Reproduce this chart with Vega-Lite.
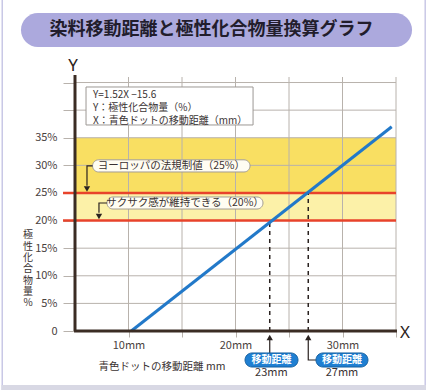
{
  "$schema": "https://vega.github.io/schema/vega-lite/v6.json",
  "width": 321,
  "height": 254,
  "autosize": {"type": "none"},
  "padding": {"left": 75, "top": 77, "right": 32, "bottom": 59},
  "background": "white",
  "config": {"font": "Noto Sans CJK JP", "view": {"stroke": null}},
  "resolve": {"scale": {"color": "independent"}},
  "datasets": {
    "frame": [
      {"part": "side", "x": -1.87, "x2": -1.73, "y": -10.7, "y2": 60},
      {"part": "side", "x": 37.66, "x2": 37.8, "y": -10.7, "y2": 60},
      {"part": "bottom", "x": -1.87, "x2": 37.8, "y": -9.78, "y2": -10.7}
    ],
    "titlePill": [{"x": -0.05, "x2": 36.5, "y": 51.43, "y2": 57.59}],
    "titleText": [{"x": 17.75, "y": 54.5, "label": "染料移動距離と極性化合物量換算グラフ"}],
    "yTitle": [
      {"x": 0.61, "y": 17.39, "label": "極"},
      {"x": 0.61, "y": 15.3, "label": "性"},
      {"x": 0.61, "y": 13.22, "label": "化"},
      {"x": 0.61, "y": 11.17, "label": "合"},
      {"x": 0.61, "y": 9.13, "label": "物"},
      {"x": 0.61, "y": 7.06, "label": "量"},
      {"x": 0.61, "y": 5.01, "label": "%"}
    ],
    "bands": [
      {"zone": "eu", "x": 5, "x2": 35, "y": 25, "y2": 35},
      {"zone": "crisp", "x": 5, "x2": 35, "y": 20, "y2": 25}
    ],
    "grid": [
      {"x": 10, "x2": 10, "y": 0, "y2": 46},
      {"x": 15, "x2": 15, "y": 0, "y2": 46},
      {"x": 20, "x2": 20, "y": 0, "y2": 46},
      {"x": 25, "x2": 25, "y": 0, "y2": 46},
      {"x": 30, "x2": 30, "y": 0, "y2": 46},
      {"x": 35, "x2": 35, "y": 0, "y2": 46},
      {"x": 5, "x2": 35, "y": 5, "y2": 5},
      {"x": 5, "x2": 35, "y": 10, "y2": 10},
      {"x": 5, "x2": 35, "y": 15, "y2": 15},
      {"x": 5, "x2": 35, "y": 20, "y2": 20},
      {"x": 5, "x2": 35, "y": 25, "y2": 25},
      {"x": 5, "x2": 35, "y": 30, "y2": 30},
      {"x": 5, "x2": 35, "y": 35, "y2": 35},
      {"x": 5, "x2": 35, "y": 40, "y2": 40},
      {"x": 5, "x2": 35, "y": 45, "y2": 45}
    ],
    "limits": [
      {"x": 3.88, "x2": 35, "y": 25},
      {"x": 3.88, "x2": 35, "y": 20}
    ],
    "eqBox": [{"x": 6.03, "x2": 21.64, "y": 37.31, "y2": 44.19}],
    "eqText": [
      {"x": 6.68, "y": 42.74, "label": "Y=1.52X −15.6"},
      {"x": 6.68, "y": 40.39, "label": "Y：極性化合物量（%）"},
      {"x": 6.68, "y": 38.03, "label": "X：青色ドットの移動距離（mm）"}
    ],
    "callPills": [
      {"x": 6.64, "x2": 21.36, "y": 28.8, "y2": 31.0},
      {"x": 7.99, "x2": 22.57, "y": 22.09, "y2": 24.27}
    ],
    "callText": [
      {"x": 14.0, "y": 29.9, "label": "ヨーロッパの法規制値（25%）"},
      {"x": 15.28, "y": 23.18, "label": "サクサク感が維持できる（20%）"}
    ],
    "arrows": [
      {"id": "a1", "o": 1, "x": 6.64, "y": 29.9},
      {"id": "a1", "o": 2, "x": 6.12, "y": 29.9},
      {"id": "a1", "o": 3, "x": 6.12, "y": 26.3},
      {"id": "a2", "o": 1, "x": 7.99, "y": 23.18},
      {"id": "a2", "o": 2, "x": 7.24, "y": 23.18},
      {"id": "a2", "o": 3, "x": 7.24, "y": 21.4},
      {"id": "b1", "o": 1, "x": 23.2, "y": -1.63},
      {"id": "b1", "o": 2, "x": 23.2, "y": -3.98},
      {"id": "b2", "o": 1, "x": 26.8, "y": -1.63},
      {"id": "b2", "o": 2, "x": 26.8, "y": -5.25},
      {"id": "b2", "o": 3, "x": 27.52, "y": -5.25}
    ],
    "headsDown": [
      {"x": 6.12, "y": 25.72},
      {"x": 7.24, "y": 20.74}
    ],
    "headsUp": [
      {"x": 23.2, "y": -1.18},
      {"x": 26.8, "y": -1.18}
    ],
    "dashes": [
      {"x": 23.2, "y": 0, "y2": 20},
      {"x": 26.8, "y": 0, "y2": 25}
    ],
    "fit": [
      {"x": 10.26, "y": 0},
      {"x": 34.6, "y": 37.0}
    ],
    "axisLines": [
      {"x": 5, "x2": 5, "y": 0, "y2": 46.36},
      {"x": 4.91, "x2": 35.09, "y": 0, "y2": 0}
    ],
    "letters": [
      {"x": 4.81, "y": 47.99, "label": "Y"},
      {"x": 35.84, "y": -0.36, "label": "X"}
    ],
    "badges": [
      {"x": 20.89, "x2": 25.84, "y": -6.52, "y2": -3.98},
      {"x": 27.52, "x2": 32.38, "y": -6.52, "y2": -3.98}
    ],
    "badgeText": [
      {"x": 23.36, "y": -5.25, "label": "移動距離"},
      {"x": 29.95, "y": -5.25, "label": "移動距離"}
    ],
    "distText": [
      {"x": 23.35, "y": -7.66, "label": "23mm"},
      {"x": 29.95, "y": -7.66, "label": "27mm"}
    ]
  },
  "encoding": {
    "x": {
      "field": "x",
      "type": "quantitative",
      "scale": {"domain": [5, 35], "nice": false, "zero": false},
      "axis": {
        "values": [10, 15, 20, 25, 30, 35],
        "labelExpr": "datum.value % 10 == 0 ? datum.value + 'mm' : ''",
        "domain": false,
        "grid": false,
        "ticks": true,
        "tickSize": 6,
        "tickColor": "#b8b2ac",
        "labelPadding": 2,
        "labelFontSize": 11,
        "labelColor": "#4a4240",
        "title": "青色ドットの移動距離 mm",
        "titleX": 86.5,
        "titleY": 35,
        "titleAlign": "center",
        "titleBaseline": "middle",
        "titleFontSize": 10.5,
        "titleFontWeight": "normal",
        "titleColor": "#3a3232"
      }
    },
    "y": {
      "field": "y",
      "type": "quantitative",
      "scale": {"domain": [0, 46], "nice": false, "zero": false},
      "axis": {
        "values": [0, 5, 10, 15, 20, 25, 30, 35, 40, 45],
        "labelExpr": "datum.value == 0 ? '0' : (datum.value <= 35 ? datum.value + '%' : '')",
        "domain": false,
        "grid": false,
        "ticks": true,
        "tickSize": 12,
        "tickColor": "#b8b2ac",
        "labelPadding": 6,
        "labelFontSize": 11,
        "labelColor": "#4a4240",
        "title": null
      }
    }
  },
  "layer": [
    {
      "data": {"name": "frame"},
      "mark": {"type": "rect"},
      "encoding": {
        "x2": {"field": "x2"},
        "y2": {"field": "y2"},
        "color": {"field": "part", "type": "nominal", "scale": {"domain": ["side", "bottom"], "range": ["#c9c8e6", "#d8d8e4"]}, "legend": null}
      }
    },
    {
      "data": {"name": "titlePill"},
      "mark": {"type": "rect", "fill": "#aca9dd", "cornerRadius": 17},
      "encoding": {"x2": {"field": "x2"}, "y2": {"field": "y2"}}
    },
    {
      "data": {"name": "titleText"},
      "mark": {"type": "text", "fontSize": 18, "fontWeight": "bold", "color": "#221d2c", "align": "center", "baseline": "middle"},
      "encoding": {"text": {"field": "label"}}
    },
    {
      "data": {"name": "yTitle"},
      "mark": {"type": "text", "fontSize": 10, "color": "#3a3232", "align": "center", "baseline": "middle"},
      "encoding": {"text": {"field": "label"}}
    },
    {
      "data": {"name": "bands"},
      "mark": {"type": "rect"},
      "encoding": {
        "x2": {"field": "x2"},
        "y2": {"field": "y2"},
        "color": {"field": "zone", "type": "nominal", "scale": {"domain": ["eu", "crisp"], "range": ["#f9df62", "#fcf1a8"]}, "legend": null}
      }
    },
    {
      "data": {"name": "grid"},
      "mark": {"type": "rule", "color": "#b8b2ac", "strokeWidth": 1},
      "encoding": {"x2": {"field": "x2"}, "y2": {"field": "y2"}}
    },
    {
      "data": {"name": "limits"},
      "mark": {"type": "rule", "color": "#e8432b", "strokeWidth": 2.5},
      "encoding": {"x2": {"field": "x2"}}
    },
    {
      "data": {"name": "eqBox"},
      "mark": {"type": "rect", "fill": "white", "stroke": "#9c9894", "strokeWidth": 1},
      "encoding": {"x2": {"field": "x2"}, "y2": {"field": "y2"}}
    },
    {
      "data": {"name": "eqText"},
      "mark": {"type": "text", "fontSize": 10, "color": "#3a3434", "align": "left", "baseline": "middle"},
      "encoding": {"text": {"field": "label"}}
    },
    {
      "data": {"name": "callPills"},
      "mark": {"type": "rect", "fill": "#fffdf2", "stroke": "#a29c94", "strokeWidth": 1, "cornerRadius": 7},
      "encoding": {"x2": {"field": "x2"}, "y2": {"field": "y2"}}
    },
    {
      "data": {"name": "callText"},
      "mark": {"type": "text", "fontSize": 10.5, "color": "#3a3232", "align": "center", "baseline": "middle"},
      "encoding": {"text": {"field": "label"}}
    },
    {
      "data": {"name": "dashes"},
      "mark": {"type": "rule", "color": "#2a2220", "strokeWidth": 1.5, "strokeDash": [4, 4]},
      "encoding": {"y2": {"field": "y2"}}
    },
    {
      "data": {"name": "fit"},
      "mark": {"type": "line", "color": "#2279c9", "strokeWidth": 3},
      "encoding": {}
    },
    {
      "data": {"name": "arrows"},
      "mark": {"type": "line", "color": "#2a2220", "strokeWidth": 1.2},
      "encoding": {"detail": {"field": "id"}, "order": {"field": "o"}}
    },
    {
      "data": {"name": "headsDown"},
      "mark": {"type": "point", "shape": "triangle-down", "filled": true, "size": 40, "color": "#2a2220", "opacity": 1},
      "encoding": {}
    },
    {
      "data": {"name": "headsUp"},
      "mark": {"type": "point", "shape": "triangle-up", "filled": true, "size": 40, "color": "#2a2220", "opacity": 1},
      "encoding": {}
    },
    {
      "data": {"name": "axisLines"},
      "mark": {"type": "rule", "color": "#3b2c24", "strokeWidth": 3},
      "encoding": {"x2": {"field": "x2"}, "y2": {"field": "y2"}}
    },
    {
      "data": {"name": "letters"},
      "mark": {"type": "text", "font": "Noto Sans", "fontSize": 17, "color": "#2a2220", "align": "center", "baseline": "middle"},
      "encoding": {"text": {"field": "label"}}
    },
    {
      "data": {"name": "badges"},
      "mark": {"type": "rect", "fill": "#1f7fd2", "stroke": "#17609f", "strokeWidth": 1, "cornerRadius": 7},
      "encoding": {"x2": {"field": "x2"}, "y2": {"field": "y2"}}
    },
    {
      "data": {"name": "badgeText"},
      "mark": {"type": "text", "fontSize": 10, "fontWeight": "bold", "color": "white", "align": "center", "baseline": "middle"},
      "encoding": {"text": {"field": "label"}}
    },
    {
      "data": {"name": "distText"},
      "mark": {"type": "text", "fontSize": 11, "color": "#3a3232", "align": "center", "baseline": "middle"},
      "encoding": {"text": {"field": "label"}}
    }
  ]
}
